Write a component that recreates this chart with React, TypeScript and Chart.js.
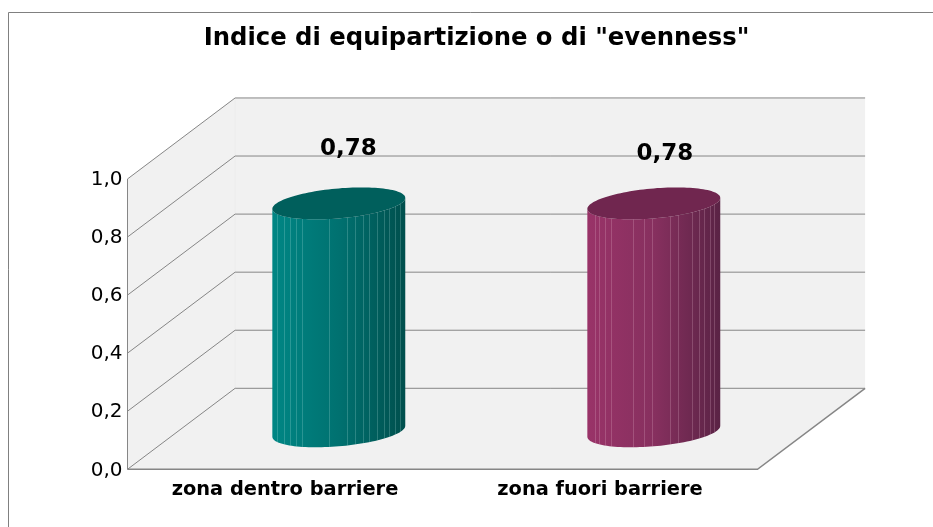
import React, { useEffect, useRef } from "react";
import { Chart, registerables } from "chart.js";

Chart.register(...registerables);

const categories = ["zona dentro barriere", "zona fuori barriere"];
const evenness = [0.785, 0.785];
const valueLabels = ["0,78", "0,78"];
const chartTitle = 'Indice di equipartizione o di "evenness"';

const FONT = '"DejaVu Sans", sans-serif';
const DEPTH_X = 107.6;
const DEPTH_Y = 81;
const WALL = "#f1f1f1";
const GRID = "#868686";

const palettes = [
  { top: "#005f5c", left: "#008684", mid: "#007170", right: "#004f4d", line: "rgba(190,235,230,0.22)" },
  { top: "#70264f", left: "#993368", mid: "#87305f", right: "#5a2345", line: "rgba(240,200,220,0.22)" },
];
const stripes = [
  [0.035, 0.085, 0.13, 0.18, 0.22, 0.43, 0.56, 0.62, 0.68, 0.73, 0.79, 0.84, 0.88, 0.925, 0.96],
  [0.06, 0.09, 0.13, 0.18, 0.34, 0.43, 0.49, 0.62, 0.68, 0.79, 0.84, 0.88, 0.92, 0.955],
];
const labelShift = [
  { x: 9.5, y: 54 },
  { x: 11, y: 49 },
];

const scene = {
  id: "scene",
  beforeDraw(chart: any) {
    const c = chart.ctx;
    c.save();
    c.fillStyle = "#ffffff";
    c.fillRect(0, 0, chart.width, chart.height);
    c.strokeStyle = "#808080";
    c.lineWidth = 1;
    c.beginPath();
    c.moveTo(8.5, chart.height);
    c.lineTo(8.5, 12.5);
    c.lineTo(chart.width, 12.5);
    c.stroke();
    c.restore();
  },
  beforeDatasetsDraw(chart: any) {
    const c = chart.ctx;
    const { left, right, top, bottom } = chart.chartArea;
    const y = chart.scales.y;
    c.save();
    c.fillStyle = WALL;
    c.beginPath();
    c.moveTo(left, top);
    c.lineTo(left + DEPTH_X, top - DEPTH_Y);
    c.lineTo(right + DEPTH_X, top - DEPTH_Y);
    c.lineTo(right + DEPTH_X, bottom - DEPTH_Y);
    c.lineTo(right, bottom);
    c.lineTo(left, bottom);
    c.closePath();
    c.fill();
    c.strokeStyle = "#ececec";
    c.beginPath();
    c.moveTo(left + DEPTH_X, top - DEPTH_Y);
    c.lineTo(left + DEPTH_X, bottom - DEPTH_Y);
    c.stroke();
    c.strokeStyle = GRID;
    c.lineWidth = 1;
    y.ticks.forEach((t: any) => {
      const py = y.getPixelForValue(t.value);
      c.beginPath();
      c.moveTo(left, py);
      c.lineTo(left + DEPTH_X, py - DEPTH_Y);
      c.lineTo(right + DEPTH_X, py - DEPTH_Y);
      c.stroke();
    });
    c.beginPath();
    c.moveTo(left, top);
    c.lineTo(left, bottom);
    c.stroke();
    c.lineWidth = 1.5;
    c.beginPath();
    c.moveTo(left, bottom);
    c.lineTo(right, bottom);
    c.lineTo(right + DEPTH_X, bottom - DEPTH_Y);
    c.stroke();
    c.restore();
  },
  afterDatasetsDraw(chart: any) {
    const c = chart.ctx;
    const meta = chart.getDatasetMeta(0);
    meta.data.forEach((bar: any, i: number) => {
      const pal = palettes[i];
      const cx = bar.x + DEPTH_X / 2;
      const a = bar.width / 2;
      const s = 5.5;
      const e = 15;
      const base = chart.scales.y.getPixelForValue(0) - DEPTH_Y / 2 + 2.5;
      const topY = bar.y - DEPTH_Y / 2 + 2.5;
      const px = (t: number) => cx + a * Math.cos(t);
      const py = (t: number, o: number) => o - s * Math.cos(t) + e * Math.sin(t);
      const body = () => {
        c.beginPath();
        for (let k = 0; k <= 60; k++) {
          const t = (Math.PI * k) / 60;
          c.lineTo(px(t), py(t, topY));
        }
        for (let k = 60; k >= 0; k--) {
          const t = (Math.PI * k) / 60;
          c.lineTo(px(t), py(t, base));
        }
        c.closePath();
      };
      c.save();
      const g = c.createLinearGradient(cx - a, 0, cx + a, 0);
      g.addColorStop(0, pal.left);
      g.addColorStop(0.5, pal.mid);
      g.addColorStop(1, pal.right);
      body();
      c.fillStyle = g;
      c.fill();
      c.clip();
      c.strokeStyle = pal.line;
      c.lineWidth = 1;
      stripes[i].forEach((f) => {
        const x = Math.round(cx - a + f * 2 * a) + 0.5;
        c.beginPath();
        c.moveTo(x, topY - 40);
        c.lineTo(x, base + 40);
        c.stroke();
      });
      c.restore();
      c.save();
      c.beginPath();
      for (let k = 0; k <= 120; k++) {
        const t = (2 * Math.PI * k) / 120;
        c.lineTo(px(t), py(t, topY));
      }
      c.closePath();
      c.fillStyle = pal.top;
      c.fill();
      c.fillStyle = "#000000";
      c.font = `bold 23px ${FONT}`;
      c.textAlign = "center";
      c.textBaseline = "middle";
      c.fillText(valueLabels[i], cx + labelShift[i].x, topY - labelShift[i].y);
      c.restore();
    });
  },
};

export default function App() {
  const ref = useRef<HTMLCanvasElement>(null);
  useEffect(() => {
    const chart = new Chart(ref.current as HTMLCanvasElement, {
      type: "bar",
      data: {
        labels: categories,
        datasets: [
          {
            data: evenness,
            backgroundColor: "transparent",
            borderWidth: 0,
            barPercentage: 0.422,
            categoryPercentage: 1,
          },
        ],
      },
      options: {
        responsive: false,
        animation: false,
        events: [],
        layout: { padding: { left: 20, right: 0, top: 0, bottom: 0 } },
        plugins: {
          legend: { display: false },
          tooltip: { enabled: false },
          title: {
            display: true,
            text: chartTitle,
            color: "#000000",
            font: { family: FONT, size: 24.3, weight: "bold", lineHeight: 1.2 },
            padding: { top: 24, bottom: 125.8 },
          },
        },
        scales: {
          x: {
            grid: { display: false, drawTicks: false },
            border: { display: false },
            ticks: {
              color: "#000000",
              padding: 9,
              maxRotation: 0,
              font: { family: FONT, size: 19.4, weight: "bold" },
            },
            afterFit: (s: any) => {
              s.height = 57.7;
            },
          },
          y: {
            min: 0,
            max: 1,
            grid: { display: false, drawTicks: false },
            border: { display: false },
            afterFit: (s: any) => {
              s.width = 107.5;
            },
            ticks: {
              stepSize: 0.2,
              color: "#000000",
              padding: 5,
              labelOffset: 1,
              font: { family: FONT, size: 20 },
              callback: (v: any) => Number(v).toFixed(1).replace(".", ","),
            },
          },
          gutter: {
            type: "linear",
            position: "right",
            grid: { display: false, drawTicks: false },
            border: { display: false },
            ticks: { display: false },
            afterFit: (s: any) => {
              s.width = 175.5;
            },
          },
        },
      },
      plugins: [scene],
    } as any);
    return () => chart.destroy();
  }, []);
  return (
    <canvas
      ref={ref}
      width={933}
      height={527}
      style={{ position: "fixed", left: 0, top: 0, display: "block" }}
    />
  );
}
